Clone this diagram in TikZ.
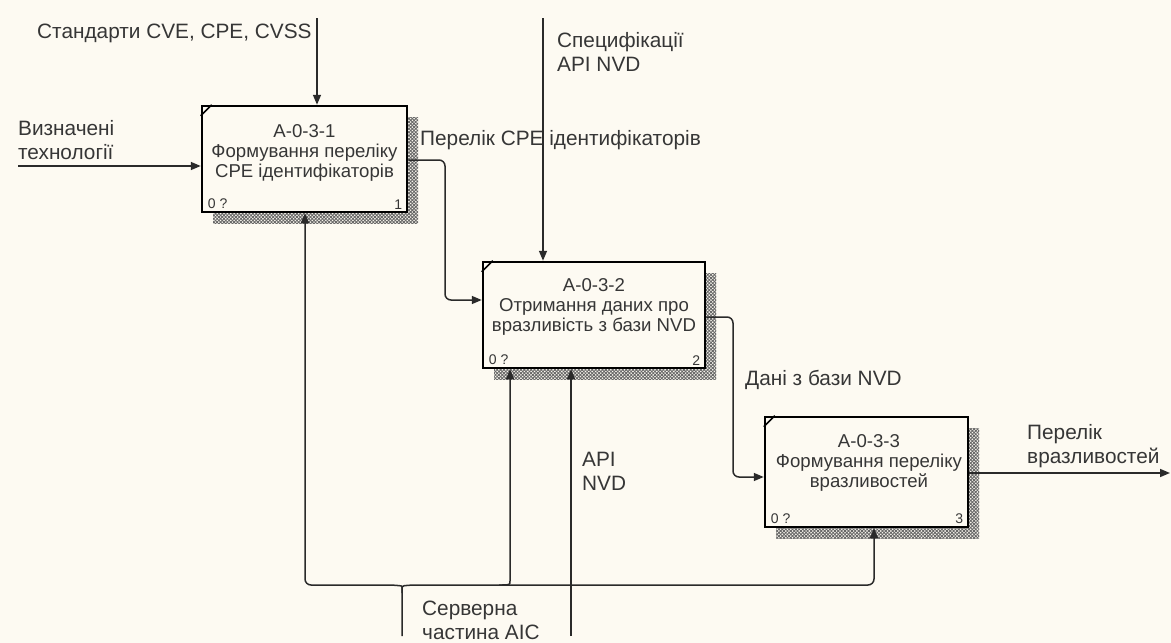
\documentclass[tikz,border=0pt]{standalone}
\usepackage{fontspec}
\setmainfont{Liberation Sans}
\usetikzlibrary{arrows.meta,shadows,patterns.meta,calc}
\definecolor{paper}{HTML}{FDFAF2}
\definecolor{ink}{HTML}{2A2A2A}
\definecolor{txt}{HTML}{363636}
\tikzset{
  procbox/.style={draw=black, line width=2.5pt, fill=paper, inner sep=0pt,
    general shadow={shadow xshift=11pt, shadow yshift=-11pt,
      pattern={Lines[angle=45,distance=2.4pt,line width=0.9pt]}, pattern color=black!60},
    general shadow={shadow xshift=11pt, shadow yshift=-11pt,
      pattern={Lines[angle=-45,distance=2.4pt,line width=0.9pt]}, pattern color=black!60}},
  boxtext/.style={align=center, text=txt, font=\fontsize{18.6}{20}\selectfont, inner sep=0pt},
  cornertext/.style={font=\fontsize{14}{16}\selectfont, text=txt, inner sep=0pt},
  lbl/.style={align=left, text=txt, font=\fontsize{20.8}{24}\selectfont, inner sep=0pt, anchor=west},
  flow/.style={draw=ink, line width=1.5pt, -{Triangle[length=10pt,width=8pt]}, rounded corners=6pt},
  tick/.style={draw=black, line width=1.6pt},
}
\begin{document}
\begin{tikzpicture}[x=1pt,y=-1pt]
\fill[paper] (0,0) rectangle (1171,643);
\useasboundingbox (0,0) rectangle (1171,643);

% activity boxes
\node[procbox, minimum width=205pt, minimum height=106pt] (b1) at (304.5,159) {};
\node[procbox, minimum width=222pt, minimum height=106pt] (b2) at (594,315) {};
\node[procbox, minimum width=203pt, minimum height=110pt] (b3) at (866.5,472) {};

% corner ticks
\draw[tick] ($(b1.north west)+(0,11)$) -- ($(b1.north west)+(11,0)$);
\draw[tick] ($(b2.north west)+(0,11)$) -- ($(b2.north west)+(11,0)$);
\draw[tick] ($(b3.north west)+(0,11)$) -- ($(b3.north west)+(11,0)$);

% box captions
\node[boxtext] (t1) at (304.5,153) {A-0-3-1\\Формування переліку\\CPE ідентифікаторів};
\node[boxtext] (t2) at (594,307) {A-0-3-2\\Отримання даних про\\вразливість з бази NVD};
\node[boxtext] (t3) at (869,463) {A-0-3-3\\Формування переліку\\вразливостей};

% corner numbers
\node[cornertext, anchor=south west] (n1) at ($(b1.south west)+(7,-4)$) {0 ?};
\node[cornertext, anchor=south east] (m1) at ($(b1.south east)+(-6,-4)$) {1};
\node[cornertext, anchor=south west] (n2) at ($(b2.south west)+(7,-4)$) {0 ?};
\node[cornertext, anchor=south east] (m2) at ($(b2.south east)+(-6,-4)$) {2};
\node[cornertext, anchor=south west] (n3) at ($(b3.south west)+(7,-4)$) {0 ?};
\node[cornertext, anchor=south east] (m3) at ($(b3.south east)+(-6,-4)$) {3};

% control and input arrows
\coordinate (stdTop) at (317,18);
\draw[flow] (stdTop) -- (stdTop |- b1.north);
\coordinate (techL) at (18,166);
\draw[flow] (techL) -- (techL -| b1.west);
\coordinate (specTop) at (543,18);
\draw[flow] (specTop) -- (specTop |- b2.north);

% outputs
\coordinate (o1) at (445,160);
\coordinate (k1) at (445,300);
\draw[flow] (b1.east |- o1) -- (o1) -- (k1) -- (k1 -| b2.west);
\coordinate (o2) at (733,317);
\coordinate (k2) at (733,477);
\draw[flow] (b2.east |- o2) -- (o2) -- (k2) -- (k2 -| b3.west);
\coordinate (outR) at (1170,473);
\draw[flow] (b3.east |- outR) -- (outR);

% mechanisms
\coordinate (apiBot) at (571,636);
\draw[flow] (apiBot) -- (apiBot |- b2.south);
\coordinate (srvBot) at (402,636);
\coordinate (srvJ) at (402,593);
\coordinate (lj) at (394,585);
\coordinate (rj) at (410,585);
\coordinate (lb) at (305,585);
\coordinate (rb) at (874,585);
\coordinate (mj) at (499,585);
\coordinate (mk) at (510,575);
\draw[flow] (srvBot) -- (srvJ) .. controls (402,586) .. (lj) -- (lb) -- (lb |- b1.south);
\draw[flow] (srvJ) .. controls (402,586) .. (rj) -- (rb) -- (rb |- b3.south);
\draw[flow] (mj) .. controls (510,585) .. (mk) -- (mk |- b2.south);

% arrow labels
\node[lbl] (lStd) at (37,33) {Стандарти CVE, CPE, CVSS};
\node[lbl] (lTech) at (18,140) {Визначені\\технології};
\node[lbl] (lCpe) at (420,140) {Перелік CPE ідентифікаторів};
\node[lbl] (lSpec) at (557,52) {Специфікації\\API NVD};
\node[lbl] (lData) at (745,380) {Дані з бази NVD};
\node[lbl] (lOut) at (1027,446) {Перелік\\вразливостей};
\node[lbl] (lApi) at (582,471) {API\\NVD};
\node[lbl] (lSrv) at (422,620) {Серверна\\частина АІС};
\end{tikzpicture}
\end{document}
